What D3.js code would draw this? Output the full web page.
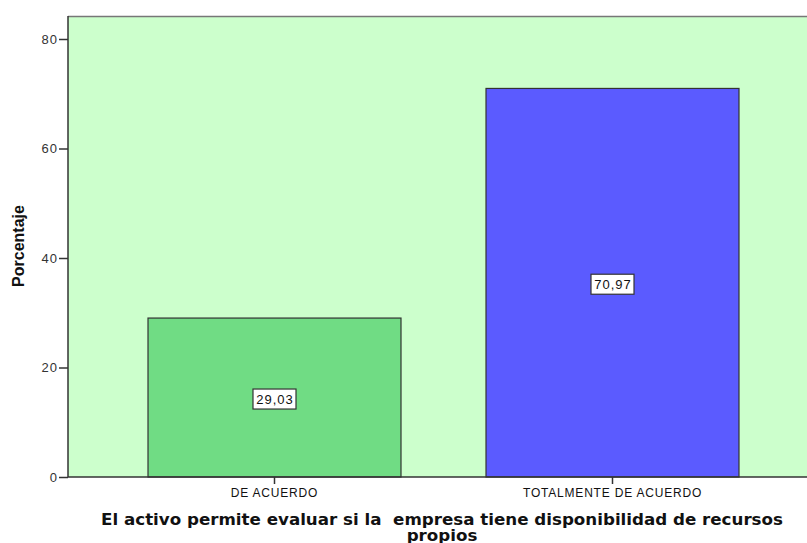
<!DOCTYPE html>
<html><head><meta charset="utf-8">
<script src="https://cdn.jsdelivr.net/npm/d3@7"></script>
<style>body{margin:0;background:#fff}svg{display:block}</style>
</head><body>
<script>
const categories = ["DE ACUERDO", "TOTALMENTE DE ACUERDO"];
const values = [29.03, 70.97];
const valueLabels = ["29,03", "70,97"];
const barColors = ["#70dc84", "#5b5bff"];
const yTicks = [0, 20, 40, 60, 80];
const yTitle = "Porcentaje";
const xTitleLines = ["El activo permite evaluar si la  empresa tiene disponibilidad de recursos", "propios"];

(function () {
const W = 807, H = 543;
const pL = 68, pR = 819, pT = 16, pB = 477;
const svg = d3.select("body").append("svg").attr("width", W).attr("height", H);
const arial = "Arial, 'Liberation Sans', sans-serif";

const y = d3.scaleLinear().domain([0, 80]).range([pB, 39]);
const x = d3.scaleBand().domain(categories).range([pL, pR]).paddingInner(0.2515).paddingOuter(0.2367);

svg.append("rect").attr("x", pL).attr("y", pT).attr("width", pR - pL).attr("height", pB - pT)
  .attr("fill", "#ccffcc");
svg.append("line").attr("x1", pL).attr("x2", pR).attr("y1", pT + 0.5).attr("y2", pT + 0.5)
  .attr("stroke", "#777").attr("stroke-width", 1.5);

svg.selectAll("rect.bar").data(values).enter().append("rect").attr("class", "bar")
  .attr("x", (d, i) => x(categories[i]))
  .attr("y", d => y(d))
  .attr("width", x.bandwidth())
  .attr("height", d => pB - y(d))
  .attr("fill", (d, i) => barColors[i])
  .attr("stroke", "#333").attr("stroke-width", 1.2);

values.forEach((v, i) => {
  const cx = x(categories[i]) + x.bandwidth() / 2;
  const cy = (y(v) + pB) / 2 + 1.5;
  const g = svg.append("g");
  const t = g.append("text").attr("x", cx + 0.5).attr("y", cy + 4.5).attr("text-anchor", "middle")
    .attr("font-family", arial).attr("font-size", 13).attr("letter-spacing", 1).attr("fill", "#111")
    .text(valueLabels[i]);
  const bb = t.node().getBBox();
  g.insert("rect", "text").attr("x", cx - 21.5).attr("y", cy - 10).attr("width", 43).attr("height", 20)
    .attr("fill", "#fff").attr("stroke", "#333").attr("stroke-width", 1.2);
});

const ya = svg.append("g").attr("transform", `translate(${pL},0)`)
  .call(d3.axisLeft(y).tickValues(yTicks).tickSize(9).tickPadding(2));
ya.select(".domain").attr("d", `M0,${pT}V${pB}`).attr("stroke", "#333").attr("stroke-width", 1.5);
ya.selectAll(".tick line").attr("stroke", "#333").attr("stroke-width", 1.5);
ya.selectAll(".tick text").attr("font-family", arial).attr("font-size", 13).attr("letter-spacing", 1).attr("dx", 1).attr("fill", "#333");

const xa = svg.append("g").attr("transform", `translate(0,${pB})`)
  .call(d3.axisBottom(x).tickSize(7).tickPadding(4));
xa.select(".domain").attr("d", `M${pL},0H${pR}`).attr("stroke", "#333").attr("stroke-width", 1.5);
xa.selectAll(".tick line").attr("stroke", "#333").attr("stroke-width", 1.5);
xa.selectAll(".tick text").attr("font-family", arial).attr("font-size", 12).attr("letter-spacing", 0.8).attr("fill", "#111");

svg.append("text").attr("transform", `translate(24,246) rotate(-90)`)
  .attr("text-anchor", "middle").attr("font-family", arial)
  .attr("font-weight", "bold").attr("font-size", 16).attr("fill", "#111").text(yTitle);

const xt = svg.append("text").attr("text-anchor", "middle").attr("font-family", "'DejaVu Sans', Verdana, sans-serif")
  .attr("font-weight", "bold").attr("font-size", 16.7).attr("fill", "#111").style("white-space", "pre");
xTitleLines.forEach((l, i) => xt.append("tspan").attr("x", 442).attr("y", 525 + i * 16).text(l));
})();
</script>
</body></html>
